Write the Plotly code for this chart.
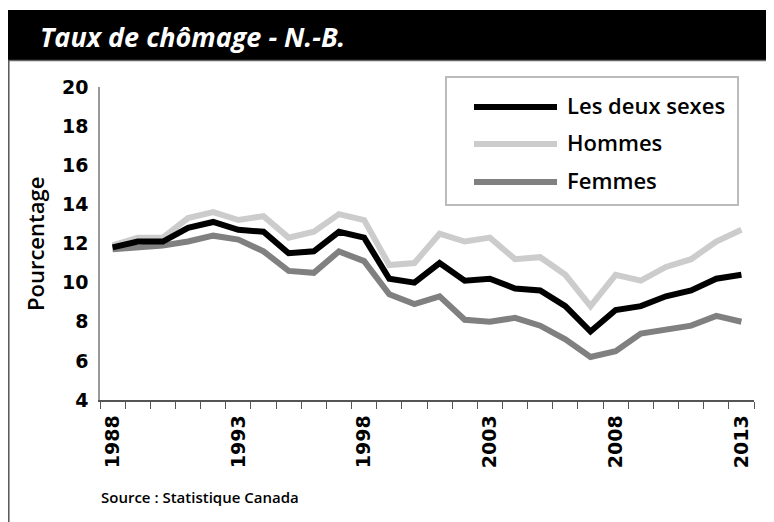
import plotly.graph_objects as go

years = list(range(1988, 2014))
les_deux_sexes = [11.8, 12.1, 12.1, 12.8, 13.1, 12.7, 12.6, 11.5, 11.6, 12.6, 12.3, 10.2, 10.0, 11.0, 10.1, 10.2,
                  9.7, 9.6, 8.8, 7.5, 8.6, 8.8, 9.3, 9.6, 10.2, 10.4]
hommes = [11.9, 12.3, 12.3, 13.3, 13.6, 13.2, 13.4, 12.3, 12.6, 13.5, 13.2, 10.9, 11.0, 12.5, 12.1, 12.3,
          11.2, 11.3, 10.4, 8.8, 10.4, 10.1, 10.8, 11.2, 12.1, 12.7]
femmes = [11.7, 11.8, 11.9, 12.1, 12.4, 12.2, 11.6, 10.6, 10.5, 11.6, 11.1, 9.4, 8.9, 9.3, 8.1, 8.0,
          8.2, 7.8, 7.1, 6.2, 6.5, 7.4, 7.6, 7.8, 8.3, 8.0]
series_names = ["Les deux sexes", "Hommes", "Femmes"]
series_colors = ["#000000", "#cccccc", "#808080"]
x_tick_years = [1988, 1993, 1998, 2003, 2008, 2013]
y_ticks = [4, 6, 8, 10, 12, 14, 16, 18, 20]

# page offset (default body margin of the html page)
OFF = 8
W, H = 774 - OFF, 522 - OFF
# plot area in page pixels
L, R, T, B = 100, 754, 87, 400

def px(x):
    return (x - L) / (R - L)

def py(y):
    return (B - y) / (B - T)

fig = go.Figure()
for name, vals, col in [(series_names[1], hommes, series_colors[1]),
                        (series_names[2], femmes, series_colors[2]),
                        (series_names[0], les_deux_sexes, series_colors[0])]:
    fig.add_trace(go.Scatter(x=years, y=vals, mode="lines", name=name,
                             line=dict(color=col, width=6), showlegend=False))

shapes = []
annotations = []
# title bar
shapes.append(dict(type="rect", xref="paper", yref="paper", x0=px(0), x1=px(780), y0=py(60), y1=py(10),
                   fillcolor="#000000", line=dict(width=0), layer="above"))
shapes.append(dict(type="line", xref="paper", yref="paper", x0=px(8), x1=px(780), y0=py(60.5), y1=py(60.5),
                   line=dict(color="#666666", width=1.5)))
shapes.append(dict(type="line", xref="paper", yref="paper", x0=px(8.8), x1=px(8.8), y0=py(60), y1=py(530),
                   line=dict(color="#555555", width=1.5)))
annotations.append(dict(text="<b><i>Taux de chômage - N.-B.</i></b>", xref="paper", yref="paper",
                        x=px(38), y=py(36), xanchor="left", yanchor="middle", showarrow=False,
                        font=dict(family="Open Sans", size=27, color="#ffffff")))

# legend box
shapes.append(dict(type="rect", xref="paper", yref="paper", x0=px(446), x1=px(738), y0=py(205), y1=py(77),
                   fillcolor="#ffffff", line=dict(color="#bbbbbb", width=2)))
leg_y = [107, 144, 182]
for name, col, yy in zip(series_names, series_colors, leg_y):
    shapes.append(dict(type="line", xref="paper", yref="paper", x0=px(474), x1=px(557), y0=py(yy), y1=py(yy),
                       line=dict(color=col, width=6)))
    annotations.append(dict(text=name, xref="paper", yref="paper", x=px(565), y=py(yy - 2),
                            xanchor="left", yanchor="middle", showarrow=False,
                            font=dict(family="Open Sans", size=22, color="#000000", weight=600)))

# y axis title
annotations.append(dict(text="Pourcentage", xref="paper", yref="paper", x=px(35), y=py(244),
                        xanchor="center", yanchor="middle", textangle=-90, showarrow=False,
                        font=dict(family="Open Sans", size=22, color="#000000", weight=600)))
# source
annotations.append(dict(text="Source : Statistique Canada", xref="paper", yref="paper", x=px(99), y=py(497),
                        xanchor="left", yanchor="middle", showarrow=False,
                        font=dict(family="Open Sans", size=15, color="#000000", weight=600)))

fig.update_layout(
    width=W, height=H,
    margin=dict(l=L - OFF, r=W - (R - OFF), t=T - OFF, b=H - (B - OFF), pad=0),
    paper_bgcolor="#ffffff", plot_bgcolor="#ffffff",
    shapes=shapes, annotations=annotations,
    xaxis=dict(range=[1987.5, 2013.5], tickmode="array", tickvals=x_tick_years,
               ticktext=[str(y) for y in x_tick_years], tickangle=-90, ticks="",
               showgrid=False, zeroline=False, showline=True, linecolor="#555555", linewidth=1.5,
               tickfont=dict(family="DejaVu Sans", size=19, color="#000000", weight="bold"),
               ticklabelstandoff=6,
               minor=dict(tickmode="array", tickvals=[1987.5 + k for k in range(27)], ticks="outside",
                          ticklen=7, tickcolor="#555555", tickwidth=1, showgrid=False)),
    yaxis=dict(range=[4, 20], tickmode="array", tickvals=y_ticks, ticks="",
               showgrid=False, zeroline=False, showline=True, linecolor="#999999", linewidth=1.5,
               tickfont=dict(family="DejaVu Sans", size=19, color="#000000", weight="bold"),
               ticklabelstandoff=6),
)

fig.write_html("out.html")
